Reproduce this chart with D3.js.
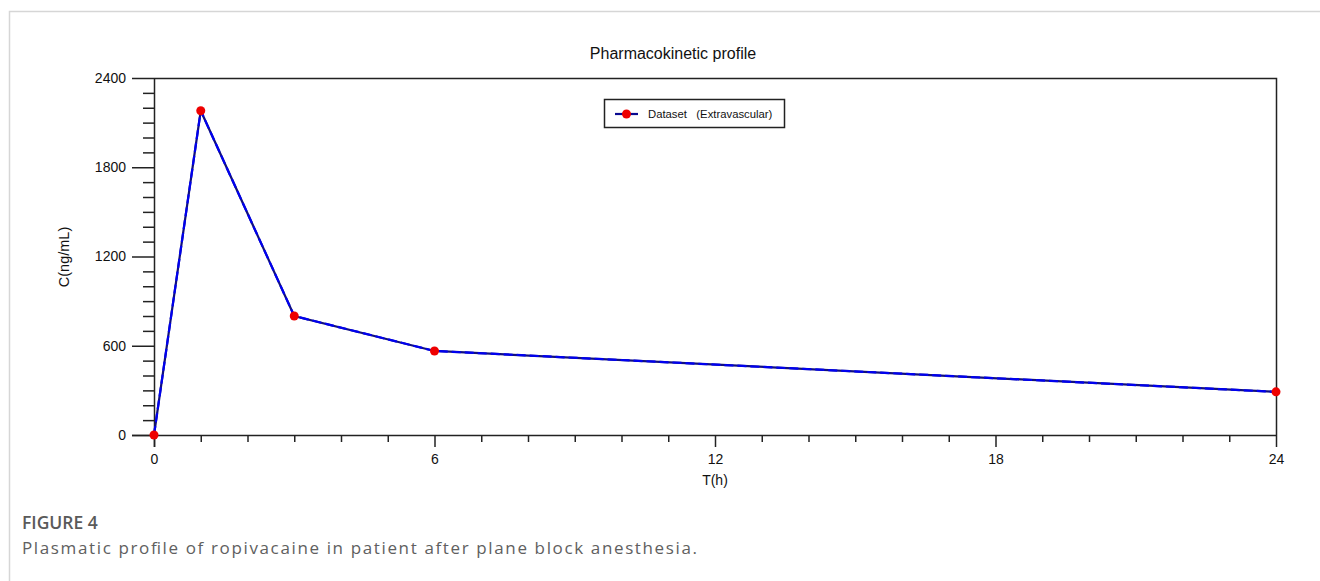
<!DOCTYPE html>
<html><head><meta charset="utf-8">
<script src="https://cdn.jsdelivr.net/npm/d3@7"></script>
<style>
html,body{margin:0;padding:0;background:#fff;}
svg{display:block;}
</style></head>
<body>
<svg id="chart" width="1320" height="581"></svg>
<script>
// ---- data ----
const times = [0, 1, 3, 6, 24];
const concentrations = [0, 2180, 800, 565, 290];
const xTicks = [0, 6, 12, 18, 24];
const yTicks = [0, 600, 1200, 1800, 2400];
const chartTitle = "Pharmacokinetic profile";
const xLabel = "T(h)";
const yLabel = "C(ng/mL)";
const legendLabel = "Dataset   (Extravascular)";
const figureLabel = "FIGURE 4";
const captionText = "Plasmatic profile of ropivacaine in patient after plane block anesthesia.";

const svg = d3.select("#chart");
// card border
svg.append("path").attr("d","M9.5,600 V11.5 H1330").attr("fill","none").attr("stroke","#d6d6d6").attr("stroke-width",1.5);

const L=154, R=1276, T=78, B=435;
const x = d3.scaleLinear().domain([0,24]).range([L,R]);
const y = d3.scaleLinear().domain([0,2400]).range([B,T]);

const font = "Arial, 'Liberation Sans', sans-serif";
const g = svg.append("g");

// frame top and right
g.append("path").attr("d",`M${L},${T+0.5} H${R+0.5} V${B}`).attr("fill","none").attr("stroke","#222").attr("stroke-width",1.5);

// x axis major
const xAxis = d3.axisBottom(x).tickValues(xTicks).tickSize(12).tickPadding(7).tickFormat(d3.format("d"));
const xg = g.append("g").attr("transform",`translate(0,${B})`).call(xAxis);
const xMinor = d3.axisBottom(x).tickValues(d3.range(0,25,1).filter(v=>v%6!==0)).tickSize(7).tickFormat("");
const xm = g.append("g").attr("transform",`translate(0,${B})`).call(xMinor);
xm.select(".domain").remove();
xg.select(".domain").attr("d",`M${L-22},0.5H${R}`);

// y axis
const yAxis = d3.axisLeft(y).tickValues(yTicks).tickSize(22).tickPadding(6).tickFormat(d3.format("d"));
const yg = g.append("g").attr("transform",`translate(${L},0)`).call(yAxis);
const yMinor = d3.axisLeft(y).tickValues(d3.range(0,2401,100).filter(v=>v%600!==0)).tickSize(11).tickFormat("");
const ym = g.append("g").attr("transform",`translate(${L},0)`).call(yMinor);
ym.select(".domain").remove();
yg.select(".domain").attr("d",`M0.5,${T}V${B+12}`);

[xg,xm,yg,ym].forEach(s=>{
  s.selectAll("line").attr("stroke","#222").attr("stroke-width",1.5);
  s.selectAll(".domain").attr("stroke","#222").attr("stroke-width",1.5);
  s.selectAll("text").attr("font-family",font).attr("font-size",14).attr("fill","#111");
});

// line
const pts = times.map((t,i)=>[t,concentrations[i]]);
const line = d3.line().x(d=>x(d[0])).y(d=>y(d[1]));
g.append("path").datum(pts).attr("d",line).attr("fill","none").attr("stroke","#101080").attr("stroke-width",2.2);
g.append("path").datum(pts).attr("d",line).attr("fill","none").attr("stroke","#0000f0").attr("stroke-width",2.2).attr("stroke-dasharray","9,4");

g.selectAll("circle.pt").data(pts).join("circle").attr("class","pt")
  .attr("cx",d=>x(d[0])).attr("cy",d=>y(d[1])).attr("r",4.5).attr("fill","#ee0000");

// title and labels
svg.append("text").attr("x",673).attr("y",59).attr("text-anchor","middle")
  .attr("font-family",font).attr("font-size",16).attr("fill","#111").text(chartTitle);
svg.append("text").attr("x",x(12)).attr("y",485).attr("text-anchor","middle")
  .attr("font-family",font).attr("font-size",14).attr("fill","#111").text(xLabel);
svg.append("text").attr("transform",`translate(69,257) rotate(-90)`).attr("text-anchor","middle")
  .attr("font-family",font).attr("font-size",14.5).attr("fill","#111").text(yLabel);

// legend
const lg = svg.append("g");
lg.append("rect").attr("x",604.5).attr("y",99.5).attr("width",180).attr("height",28)
  .attr("fill","#fff").attr("stroke","#222").attr("stroke-width",1.5);
lg.append("line").attr("x1",615).attr("x2",638).attr("y1",114).attr("y2",114).attr("stroke","#0a0a90").attr("stroke-width",2.2);
lg.append("circle").attr("cx",626.5).attr("cy",114).attr("r",4.5).attr("fill","#ee0000");
lg.append("text").attr("x",648).attr("y",118).attr("font-family",font).attr("font-size",11.3)
  .attr("fill","#111").attr("xml:space","preserve").style("white-space","pre").text(legendLabel);

// caption
svg.append("text").attr("x",22).attr("y",529).attr("font-family","'Open Sans', sans-serif")
  .attr("font-size",17.5).attr("font-weight",600).attr("fill","#5a5a5a").text(figureLabel);
svg.append("text").attr("x",22).attr("y",554).attr("font-family","'Open Sans', sans-serif")
  .attr("font-size",17).attr("fill","#606060")
  .attr("textLength",675).attr("lengthAdjust","spacing").text(captionText);
</script>
</body></html>
